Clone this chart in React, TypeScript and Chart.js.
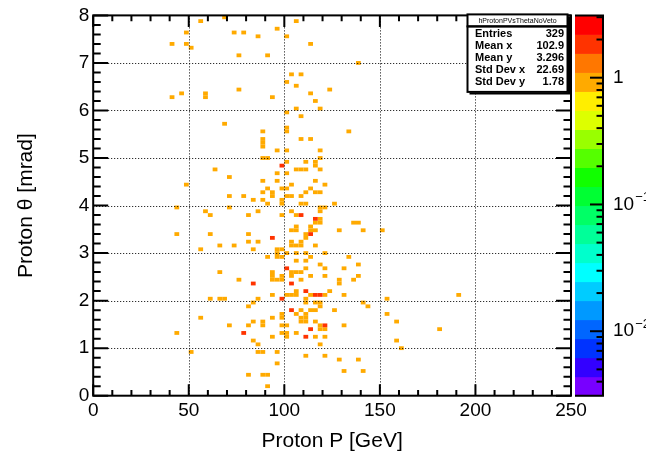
import { useEffect, useRef } from 'react';
import { Chart, registerables } from 'chart.js';

Chart.register(...registerables);

// ---- data ----
const histName = 'hProtonPVsThetaNoVeto';
const xTitle = 'Proton P [GeV]';
const yTitle = 'Proton \u03b8 [mrad]';
const pRange = [0, 250];
const thetaRange = [0, 8];
const binP = 2.5; // GeV
const binTheta = 0.08; // mrad
const statLabels = ['Entries', 'Mean x', 'Mean y', 'Std Dev x', 'Std Dev y'];
const statValues = ['329', '102.9', '3.296', '22.69', '1.78'];
const zRange = [0.0031, 3.1];
const zLabelPowers = [0, -1, -2];

// cells with one entry [P GeV, theta mrad]
const singleCells: [number, number][] = [
  [41.2, 7.4], [48.5, 7.64], [48.5, 7.4], [51.1, 7.31], [41.2, 6.28], [46.3, 6.36], [48.5, 4.47], [43.6, 3.97],
  [43.6, 3.4], [43.6, 1.33], [51.1, 0.94],
  [56.0, 7.89], [68.0, 7.96], [73.4, 7.63], [78.5, 7.63], [86.0, 7.56], [95.9, 7.72], [101.1, 7.56], [75.9, 7.16],
  [91.0, 7.16], [58.6, 6.28], [58.6, 6.36], [93.5, 6.29], [75.9, 6.43], [68.5, 5.71], [88.6, 5.57], [101.1, 5.97],
  [101.1, 5.64], [101.1, 5.55], [101.1, 6.62],
  [106.0, 7.89], [113.4, 7.4], [138.3, 7.0], [103.4, 6.76], [108.5, 6.76], [106.0, 6.51], [113.4, 6.36], [123.5, 6.43],
  [116.0, 6.2], [106.0, 6.04], [118.6, 6.04], [108.5, 5.89], [133.4, 5.58], [108.5, 5.4], [113.4, 5.4],
  [88.6, 5.4], [88.6, 5.32], [88.6, 5.24], [95.9, 5.18], [101.1, 5.16], [88.6, 5.01], [91.1, 5.01], [63.7, 4.76],
  [71.2, 4.6], [95.9, 4.69], [88.6, 4.53], [95.9, 4.53], [91.0, 4.37], [88.6, 4.29], [93.5, 4.29], [93.5, 4.2],
  [98.5, 4.37], [101.1, 4.37], [71.2, 4.2], [78.5, 4.2], [83.7, 4.12], [88.6, 4.12], [91.0, 4.06], [98.5, 4.11],
  [98.5, 4.03], [58.4, 3.89], [61.0, 3.8], [71.2, 3.97], [86.0, 3.88], [81.1, 3.8], [98.5, 3.8], [102.7, 3.88],
  [61.0, 3.39], [81.1, 3.39], [81.1, 3.25], [86.0, 3.25], [65.9, 3.17], [73.6, 3.17], [56.0, 3.08], [83.7, 3.08],
  [91.0, 2.93], [95.9, 3.06], [98.5, 3.06], [95.9, 2.97], [95.9, 2.88], [98.5, 2.88], [101.1, 2.97],
  [118.6, 5.18], [118.6, 5.01], [101.1, 4.9], [110.8, 4.9], [116.0, 4.9], [116.0, 4.82], [105.5, 4.78], [108.0, 4.78],
  [110.5, 4.78], [118.6, 4.78], [101.1, 4.71], [116.0, 4.53], [120.9, 4.46], [103.4, 4.46], [113.4, 4.37], [111.1, 4.29],
  [116.0, 4.29], [118.6, 4.29], [101.1, 4.18], [103.4, 4.2], [108.1, 4.2], [108.1, 4.06], [110.8, 4.06], [126.1, 4.06],
  [103.4, 3.89], [106.0, 3.8], [118.6, 3.97], [118.6, 3.89], [121.2, 3.97], [118.6, 3.73], [118.6, 3.65], [116.0, 3.65],
  [135.8, 3.65], [138.3, 3.65], [103.4, 3.49], [106.0, 3.49], [106.0, 3.56], [113.4, 3.56], [113.4, 3.48], [116.0, 3.49],
  [128.2, 3.48], [140.9, 3.48], [111.1, 3.39], [111.1, 3.31], [103.4, 3.27], [103.4, 3.18], [106.0, 3.18], [108.5, 3.27],
  [108.5, 3.18], [116.0, 3.17], [101.1, 2.99], [106.0, 3.0], [111.1, 3.0], [121.2, 3.0], [113.4, 2.92], [133.1, 2.93],
  [106.0, 2.85], [111.1, 2.85], [118.6, 2.78], [138.6, 2.78], [111.1, 2.68], [121.2, 2.68], [130.8, 2.68],
  [65.9, 2.61], [75.9, 2.44], [93.5, 2.56], [93.5, 2.48], [93.5, 2.4], [96.0, 2.4], [98.5, 2.4], [98.5, 2.53],
  [102.5, 2.53], [61.0, 2.05], [67.3, 2.05], [69.8, 2.05], [86.0, 2.05], [93.6, 2.14], [81.1, 1.88], [83.7, 1.97],
  [56.0, 1.66], [71.2, 1.49], [81.1, 1.49], [83.7, 1.57], [88.6, 1.57], [88.6, 1.49], [93.6, 1.66], [98.5, 1.71],
  [98.5, 1.6], [98.5, 1.5], [98.5, 1.34], [101.1, 1.34], [83.7, 1.17], [93.6, 1.25], [86.0, 1.04], [86.0, 0.94],
  [88.6, 0.94], [95.9, 0.94], [95.9, 0.69], [81.1, 0.45], [88.6, 0.45], [91.0, 0.45], [91.0, 0.23],
  [103.4, 2.56], [106.0, 2.56], [108.5, 2.56], [108.5, 2.45], [113.4, 2.55], [120.9, 2.55], [128.2, 2.45], [128.2, 2.36],
  [136.0, 2.45], [138.3, 2.55], [106.0, 2.2], [106.0, 2.13], [101.1, 2.13], [103.4, 2.13], [113.4, 2.13], [120.9, 2.13],
  [123.5, 2.2], [130.8, 2.13], [111.1, 1.97], [111.1, 2.05], [116.0, 1.97], [118.6, 1.97], [118.6, 1.88], [126.1, 1.81],
  [140.9, 1.97], [143.3, 1.88], [108.1, 1.81], [113.4, 1.81], [116.0, 1.81], [106.0, 1.72], [111.1, 1.72], [108.5, 1.64],
  [111.1, 1.64], [108.5, 1.55], [111.1, 1.55], [116.0, 1.57], [101.1, 1.5], [118.3, 1.5], [118.6, 1.42], [120.9, 1.42],
  [130.8, 1.49], [101.1, 1.32], [101.1, 1.25], [106.0, 1.32], [116.0, 1.25], [120.9, 1.25], [118.3, 1.08], [111.1, 0.85],
  [120.9, 0.85], [128.2, 0.76], [138.3, 0.76], [130.8, 0.53], [140.9, 0.53],
  [153.4, 2.05], [153.4, 1.73], [158.3, 1.57], [158.3, 1.17], [160.8, 1.03], [180.8, 1.42], [190.9, 2.14], [150.8, 3.48],
];

// cells with two entries
const doubleCells: [number, number][] = [
  [98.5, 4.85], [93.6, 3.32], [101.1, 2.68], [108.5, 3.8], [116.0, 3.73], [113.4, 3.39], [83.7, 2.36], [98.5, 2.05],
  [78.5, 1.34], [102.5, 1.81], [103.4, 2.38], [111.1, 2.2], [116.0, 2.13], [118.6, 2.13], [103.4, 1.81], [113.4, 1.42],
  [120.9, 1.49], [111.1, 1.25],
];

// ROOT-like palette, bottom -> top
const paletteColors = [
  '#7800ff', '#3300ff', '#0033ff', '#0066ff', '#0099ff', '#00ccff', '#00ffff', '#00ffcc', '#00ff99', '#00ff66',
  '#00ff33', '#11ff00', '#55ff00', '#99ff00', '#ddff00', '#ffee00', '#ffaa00', '#ff7700', '#ff3300', '#ff0000',
];

const FONT = "'Liberation Sans', Arial, Helvetica, sans-serif";

type Cell = { x: number; y: number; v: number };

function buildCells(): Cell[] {
  const map = new Map<string, Cell>();
  const add = (list: [number, number][], v: number) => {
    for (const [p, t] of list) {
      const i = Math.floor(p / binP);
      const j = Math.floor(t / binTheta);
      map.set(i + ',' + j, { x: (i + 0.5) * binP, y: (j + 0.5) * binTheta, v });
    }
  };
  add(singleCells, 1);
  add(doubleCells, 2);
  return Array.from(map.values());
}

const rootPlugin = {
  id: 'rootStyle',
  beforeDraw(chart: any) {
    const { ctx } = chart;
    const xs = chart.scales.x;
    const ys = chart.scales.y;
    const zs = chart.scales.z;
    const cells: Cell[] = chart.data.datasets[0].data;
    ctx.save();
    ctx.fillStyle = '#fff';
    ctx.fillRect(0, 0, chart.width, chart.height);
    for (const c of cells) {
      const px0 = xs.getPixelForValue(c.x - binP / 2);
      const px1 = xs.getPixelForValue(c.x + binP / 2);
      const py0 = ys.getPixelForValue(c.y - binTheta / 2);
      const py1 = ys.getPixelForValue(c.y + binTheta / 2);
      const frac = (zs.bottom - zs.getPixelForValue(c.v)) / (zs.bottom - zs.top);
      const idx = Math.max(0, Math.min(paletteColors.length - 1, Math.floor(frac * paletteColors.length)));
      ctx.fillStyle = paletteColors[idx];
      ctx.fillRect(px0, py1, px1 - px0, py0 - py1);
    }
    ctx.restore();
  },
  afterDraw(chart: any) {
    const { ctx, chartArea: a } = chart;
    const xs = chart.scales.x;
    const ys = chart.scales.y;
    const zs = chart.scales.z;
    ctx.save();
    // dotted grid
    ctx.strokeStyle = '#000';
    ctx.lineWidth = 1;
    ctx.setLineDash([1, 2]);
    for (let v = pRange[0] + 50; v < pRange[1]; v += 50) {
      const x = Math.round(xs.getPixelForValue(v)) + 0.5;
      ctx.beginPath(); ctx.moveTo(x, a.top); ctx.lineTo(x, a.bottom); ctx.stroke();
    }
    for (let v = thetaRange[0] + 1; v < thetaRange[1]; v += 1) {
      const y = Math.round(ys.getPixelForValue(v)) + 0.5;
      ctx.beginPath(); ctx.moveTo(a.left, y); ctx.lineTo(a.right, y); ctx.stroke();
    }
    ctx.setLineDash([]);
    // ticks
    ctx.lineWidth = 2;
    for (let v = pRange[0]; v <= pRange[1] + 1e-9; v += 10) {
      const x = xs.getPixelForValue(v);
      const L = Math.abs(v % 50) < 1e-9 ? 11.5 : 5.8;
      ctx.beginPath();
      ctx.moveTo(x, a.bottom); ctx.lineTo(x, a.bottom - L);
      ctx.moveTo(x, a.top); ctx.lineTo(x, a.top + L);
      ctx.stroke();
    }
    for (let k = 0; k <= 40; k++) {
      const v = thetaRange[0] + k * 0.2;
      const y = ys.getPixelForValue(v);
      const L = k % 5 === 0 ? 15 : 7.5;
      ctx.beginPath();
      ctx.moveTo(a.left, y); ctx.lineTo(a.left + L, y);
      ctx.moveTo(a.right, y); ctx.lineTo(a.right - L, y);
      ctx.stroke();
    }
    // frame
    ctx.strokeRect(a.left, a.top, a.right - a.left, a.bottom - a.top);

    // palette
    const bx0 = a.right + 4;
    const bx1 = a.right + 32;
    const lz0 = Math.log10(zRange[0]);
    const lz1 = Math.log10(zRange[1]);
    const n = paletteColors.length;
    for (let k = 0; k < n; k++) {
      const yA = zs.getPixelForValue(Math.pow(10, lz0 + (lz1 - lz0) * k / n));
      const yB = zs.getPixelForValue(Math.pow(10, lz0 + (lz1 - lz0) * (k + 1) / n));
      ctx.fillStyle = paletteColors[k];
      ctx.fillRect(bx0, yB, bx1 - bx0, yA - yB + 0.5);
    }
    ctx.strokeStyle = '#000';
    ctx.lineWidth = 2;
    ctx.beginPath();
    ctx.moveTo(bx0, zs.top); ctx.lineTo(bx1, zs.top); ctx.lineTo(bx1, zs.bottom); ctx.lineTo(bx0, zs.bottom);
    ctx.stroke();
    for (let e = -3; e <= 0; e++) {
      for (let m = 1; m <= 9; m++) {
        const v = m * Math.pow(10, e);
        if (v < zRange[0] || v > zRange[1]) continue;
        const y = zs.getPixelForValue(v);
        const L = m === 1 ? 13 : 6.5;
        ctx.beginPath(); ctx.moveTo(bx1, y); ctx.lineTo(bx1 - L, y); ctx.stroke();
      }
    }
    ctx.fillStyle = '#000';
    ctx.textBaseline = 'middle';
    ctx.textAlign = 'left';
    for (const pw of zLabelPowers) {
      const y = zs.getPixelForValue(Math.pow(10, pw));
      const lx = bx1 + 10;
      ctx.font = '19px ' + FONT;
      if (pw === 0) {
        ctx.fillText('1', lx, y);
      } else {
        ctx.fillText('10', lx, y);
        const w = ctx.measureText('10').width;
        ctx.font = '13px ' + FONT;
        ctx.fillText('\u2212' + String(-pw), lx + w + 1, y - 7);
      }
    }

    // stats box
    const sL = a.right - 103.5;
    const sR = a.right - 3.5;
    const sT = a.top - 1;
    const sM = a.top + 11;
    const sB = a.top + 76.5;
    ctx.fillStyle = '#fff';
    ctx.fillRect(sL, sT, sR - sL, sB - sT);
    ctx.strokeStyle = '#000';
    ctx.lineWidth = 2;
    ctx.strokeRect(sL, sT, sR - sL, sM - sT);
    ctx.strokeRect(sL, sM, sR - sL, sB - sM);
    ctx.lineWidth = 2;
    ctx.beginPath();
    ctx.moveTo(sL + 2, sB + 1.5); ctx.lineTo(sR + 1.5, sB + 1.5); ctx.lineTo(sR + 1.5, sT + 2);
    ctx.stroke();
    ctx.fillStyle = '#000';
    ctx.font = '7px ' + FONT;
    ctx.textAlign = 'center';
    ctx.fillText(histName, (sL + sR) / 2, (sT + sM) / 2 + 0.5);
    ctx.font = 'bold 11px ' + FONT;
    for (let i = 0; i < statLabels.length; i++) {
      const y = sM + 8 + i * 11.9;
      ctx.textAlign = 'left';
      ctx.fillText(statLabels[i], sL + 7.5, y);
      ctx.textAlign = 'right';
      ctx.fillText(statValues[i], sR - 3.5, y);
    }
    ctx.restore();
  },
};

export default function App() {
  const ref = useRef<HTMLCanvasElement | null>(null);
  useEffect(() => {
    if (!ref.current) return;
    const chart = new Chart(ref.current, {
      type: 'scatter',
      data: {
        datasets: [
          {
            data: buildCells() as any,
            pointRadius: 0,
            pointHoverRadius: 0,
            showLine: false,
          },
        ],
      },
      options: {
        animation: false,
        responsive: false,
        events: [],
        layout: { padding: { left: 0, top: 15, right: 75, bottom: 0 } },
        plugins: { legend: { display: false }, tooltip: { enabled: false } },
        scales: {
          x: {
            type: 'linear',
            position: 'bottom',
            min: pRange[0],
            max: pRange[1],
            ticks: { stepSize: 50, color: '#000', font: { size: 19, family: FONT }, padding: 4, maxRotation: 0, autoSkip: false },
            grid: { display: false, drawTicks: false },
            border: { display: false },
            title: { display: true, text: xTitle, color: '#000', font: { size: 21, family: FONT }, padding: { top: 0, bottom: 4 } },
            afterFit: (s: any) => { s.height = 62.3; },
          },
          y: {
            type: 'linear',
            position: 'left',
            min: thetaRange[0],
            max: thetaRange[1],
            ticks: { stepSize: 1, color: '#000', font: { size: 19, family: FONT }, padding: 4, autoSkip: false },
            grid: { display: false, drawTicks: false },
            border: { display: false },
            title: { display: true, text: yTitle, color: '#000', font: { size: 21, family: FONT }, padding: { top: 14, bottom: 0 } },
            afterFit: (s: any) => { s.width = 93.2; },
          },
          z: {
            type: 'logarithmic',
            position: 'right',
            display: false,
            min: zRange[0],
            max: zRange[1],
          },
        },
      } as any,
      plugins: [rootPlugin],
    });
    return () => chart.destroy();
  }, []);
  return (
    <div style={{ position: 'fixed', left: 0, top: 0, width: 646, height: 458, background: '#fff' }}>
      <canvas ref={ref} width={646} height={458} style={{ display: 'block' }} />
    </div>
  );
}
